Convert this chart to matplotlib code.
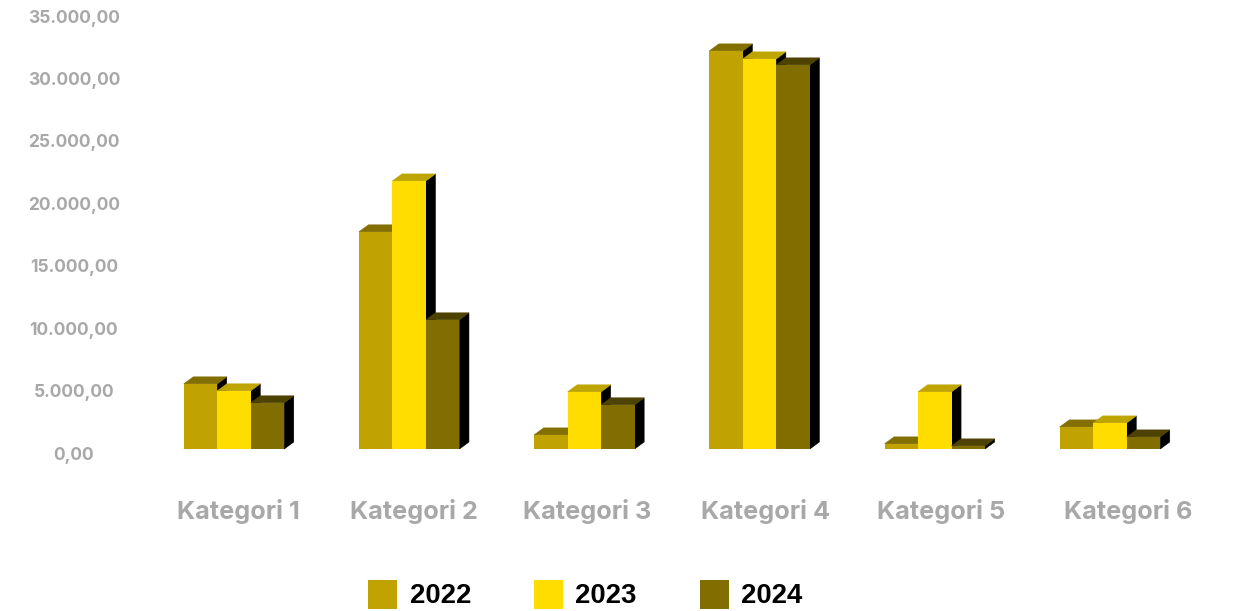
import matplotlib.pyplot as plt
from matplotlib.patches import Rectangle

# Values
categories = ['Kategori 1', 'Kategori 2', 'Kategori 3', 'Kategori 4', 'Kategori 5', 'Kategori 6']
v2022 = [5220, 17400, 1130, 31900, 410, 1770]
v2023 = [4660, 21480, 4580, 31260, 4580, 2090]
v2024 = [3700, 10350, 3540, 30780, 250, 970]
years = ['2022', '2023', '2024']
yticks = [0, 5000, 10000, 15000, 20000, 25000, 30000, 35000]
ytick_labels = ['0,00', '5.000,00', '10.000,00', '15.000,00', '20.000,00', '25.000,00', '30.000,00', '35.000,00']

front_colors = ['#C0A300', '#FFDD00', '#826E00']
top_colors = ['#826F00', '#BFA500', '#4D4200']
side_color = '#000000'
gray = '#A8A8A8'

W, H = 1239, 611
fig = plt.figure(figsize=(W / 100, H / 100), dpi=100)
ax = fig.add_axes([0, 0, 1, 1])
ax.axis('off')

# one category = 175.2 px, 1000 units = 12.48 px, category 1 centre at 234 px
px_x = 175.2
px_y = 12.48 / 1000
ax.set_xlim(-234 / px_x, (W - 234) / px_x)
ax.set_ylim(-(H - 449) / px_y, 449 / px_y)

bar_w = 33.5 / px_x
dx = 9.5 / px_x
dy = 7 / px_y

for s, values in enumerate([v2022, v2023, v2024]):
    for i, v in enumerate(values):
        left = i + (s - 1.5) * bar_w
        right = left + bar_w
        # side face, top face, then the front (thin edges close the seams between faces)
        ax.fill([right, right + dx, right + dx, right], [0, dy, v + dy, v], color=side_color, lw=0.4)
        ax.fill([left, left + dx, right + dx, right], [v, v + dy, v + dy, v], color=top_colors[s], lw=0.4)
        ax.bar(left, v, width=bar_w, align='edge', color=front_colors[s], lw=0)

# y labels sit centred in a column at x=74 px, a few px under their value
for val, lab in zip(yticks, ytick_labels):
    ax.annotate(lab, xy=(74 / W, val), xycoords=ax.get_yaxis_transform(), xytext=(0, -6),
                textcoords='offset pixels', ha='center', va='center',
                fontsize=12.5, fontweight='bold', family='Inter', color=gray)

# the last category label is pushed right in the original
label_px = [238.5, 413.5, 587, 765.5, 941, 1128]
for px, lab in zip(label_px, categories):
    ax.text(px / W, 1 - 512 / H, lab, transform=ax.transAxes, ha='center', va='center',
            fontsize=18.2, fontweight='bold', family='Inter', color=gray)

# legend
legend_px = [368, 533.5, 699.5]
for px, year, col in zip(legend_px, years, front_colors):
    fig.add_artist(Rectangle((px / W, 1 - 609 / H), 29 / W, 29 / H, transform=fig.transFigure, color=col, lw=0))
    fig.text((px + 42) / W, 1 - 596 / H, year, ha='left', va='center', fontsize=19.8,
             fontweight='bold', family='Liberation Sans', color='black')

fig.savefig('out.png', dpi=100)
